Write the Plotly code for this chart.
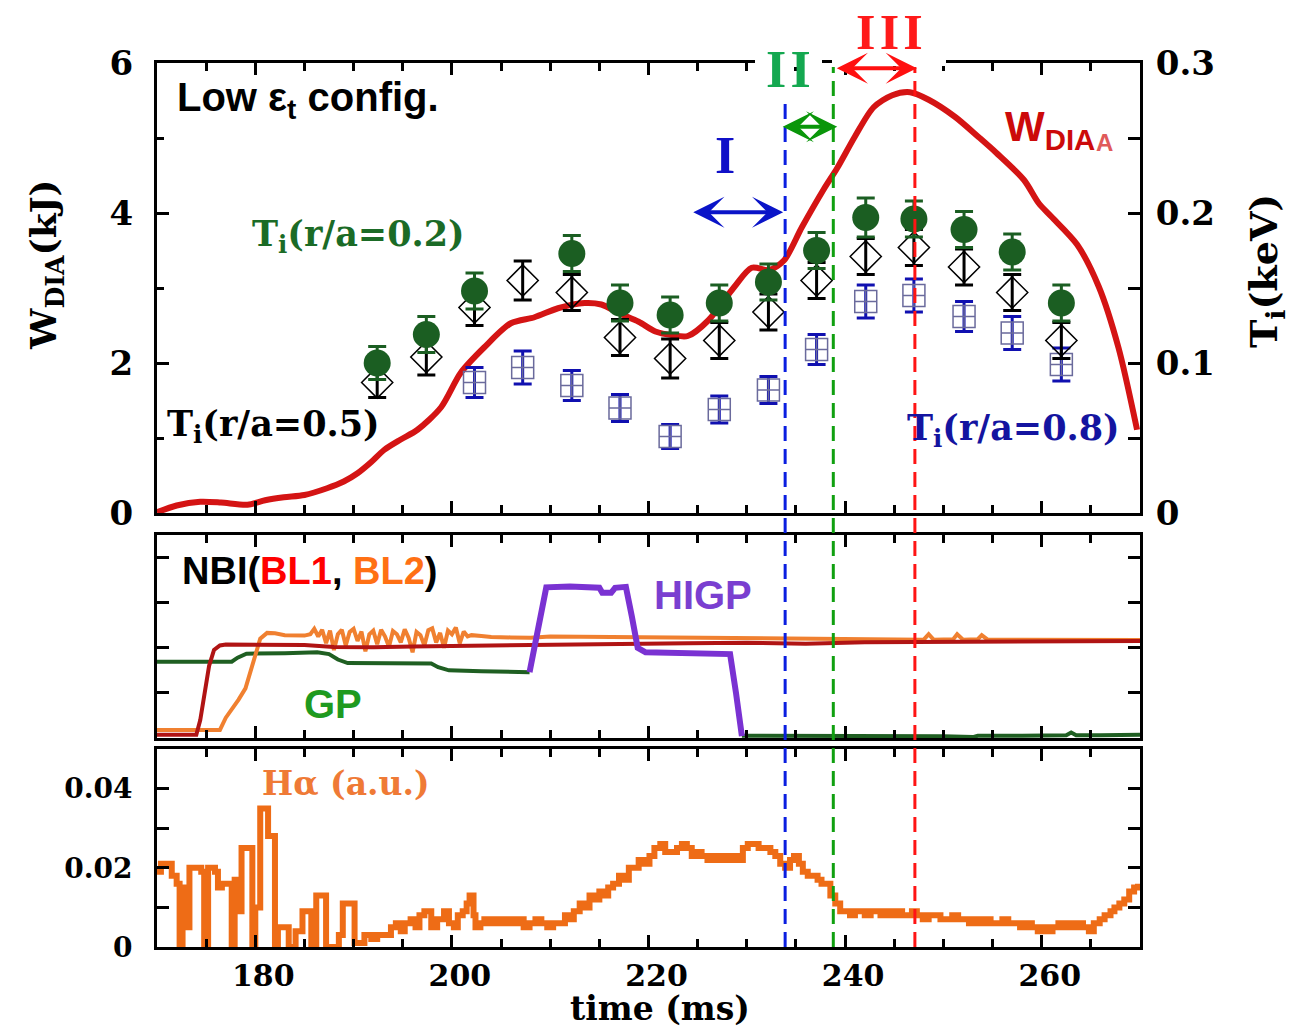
import plotly.graph_objects as go

# ---------------- data ----------------
# W_DIA stored energy (kJ) vs time (ms)
w_time = [170.0, 172.0, 174.4, 176.5, 179.2, 181.0, 182.9, 185.0, 187.3, 189.0,
          190.4, 191.8, 193.1, 194.8, 196.5, 198.9, 200.9, 203.3, 206.0, 208.4,
          210.8, 213.5, 215.2, 217.1, 219.0, 220.7, 222.5, 224.0, 226.1, 228.7,
          230.5, 232.3, 233.8, 235.6, 237.8, 239.2, 241.0, 242.9, 244.8, 246.6,
          248.5, 251.2, 253.6, 255.4, 258.2, 259.7, 261.0, 263.6, 265.8, 267.8, 269.7]
w_dia = [0.01, 0.10, 0.15, 0.14, 0.11, 0.17, 0.21, 0.24, 0.33, 0.42,
         0.53, 0.68, 0.84, 0.98, 1.11, 1.41, 1.87, 2.21, 2.53, 2.61,
         2.73, 2.80, 2.78, 2.66, 2.55, 2.42, 2.37, 2.36, 2.57, 3.01,
         3.27, 3.24, 3.37, 3.81, 4.31, 4.60, 5.02, 5.41, 5.57, 5.61,
         5.51, 5.28, 5.01, 4.80, 4.44, 4.13, 3.95, 3.58, 3.02, 2.21, 1.11]

# Ion temperature (keV) at three radii
ti_time = [192.4, 197.4, 202.3, 207.2, 212.2, 217.1, 222.2, 227.2, 232.2, 237.1,
           242.1, 247.0, 252.1, 257.0, 262.0]
ti_r02 = [0.100, 0.119, 0.148, None, 0.173, 0.140, 0.132, 0.140, 0.154, 0.175,
          0.197, 0.196, 0.189, 0.174, 0.140]
ti_r02_err = [0.011, 0.012, 0.012, 0.0, 0.012, 0.012, 0.012, 0.012, 0.012, 0.012,
              0.013, 0.012, 0.012, 0.012, 0.012]
ti_r05 = [0.087, 0.104, 0.137, 0.155, 0.147, 0.117, 0.103, 0.115, 0.134, 0.155,
          0.171, 0.177, 0.164, 0.147, 0.115]
ti_r05_err = [0.010, 0.012, 0.012, 0.013, 0.012, 0.012, 0.013, 0.012, 0.012, 0.012,
              0.012, 0.012, 0.012, 0.012, 0.012]
ti_r08 = [None, None, 0.087, 0.097, 0.085, 0.070, 0.051, 0.069, 0.082, 0.109,
          0.141, 0.145, 0.131, 0.120, 0.099]
ti_r08_err = [0.0, 0.0, 0.010, 0.011, 0.010, 0.009, 0.008, 0.009, 0.009, 0.010,
              0.011, 0.011, 0.010, 0.011, 0.011]

# NBI / gas-puff waveforms (a.u.)
bl1_time = [170.0, 174.0, 174.4, 174.8, 175.3, 175.8, 176.4, 177.0, 180.0, 185.0,
            188.0, 192.0, 196.0, 200.0, 204.0, 208.0, 212.0, 218.0, 224.0, 230.0,
            236.0, 242.0, 248.0, 254.0, 260.0, 266.0, 270.0]
bl1_val = [0.07, 0.07, 0.40, 1.00, 1.60, 1.95, 2.05, 2.07, 2.07, 2.06,
           2.02, 2.01, 2.03, 2.04, 2.06, 2.08, 2.09, 2.10, 2.10, 2.11,
           2.09, 2.12, 2.13, 2.13, 2.14, 2.15, 2.15]

bl2_time = [170.0, 176.4, 177.0, 177.6, 178.3, 179.0, 179.7, 180.5, 181.2, 182.0,
            183.0, 184.0, 185.0, 185.6, 186.0, 186.4, 186.8, 187.2, 187.6, 188.0,
            188.4, 188.8, 189.2, 189.6, 190.0, 190.4, 190.8, 191.2, 191.6, 192.0,
            192.4, 192.8, 193.2, 193.6, 194.0, 194.4, 194.8, 195.2, 195.6, 196.0,
            196.4, 196.8, 197.2, 197.6, 198.0, 198.4, 198.8, 199.2, 199.6, 200.0,
            200.4, 200.8, 201.2, 201.6, 202.0, 203.0, 204.0, 206.0, 208.0, 210.0,
            215.0, 220.0, 225.0, 230.0, 235.0, 240.0, 245.0, 248.0, 248.5, 249.0,
            251.0, 251.4, 252.0, 253.5, 253.9, 254.5, 258.0, 262.0, 266.0, 270.0]
bl2_val = [0.18, 0.18, 0.45, 0.62, 0.85, 1.10, 1.65, 2.20, 2.33, 2.32,
           2.28, 2.27, 2.27, 2.30, 2.42, 2.25, 2.40, 2.10, 2.38, 1.95,
           2.30, 2.40, 2.05, 2.35, 2.42, 2.15, 2.36, 1.92, 2.30, 2.38,
           2.08, 2.40, 2.25, 2.02, 2.37, 2.30, 2.12, 2.41, 2.22, 1.90,
           2.35, 2.28, 2.05, 2.39, 2.43, 2.12, 2.33, 2.00, 2.38, 2.30,
           2.45, 2.10, 2.36, 2.25, 2.28, 2.26, 2.24, 2.23, 2.22, 2.25,
           2.24, 2.25, 2.23, 2.22, 2.20, 2.20, 2.19, 2.18, 2.30, 2.18,
           2.19, 2.30, 2.18, 2.19, 2.28, 2.18, 2.18, 2.18, 2.17, 2.17]

gp_time = [170.0, 177.6, 178.2, 179.1, 183.0, 186.3, 187.5, 188.4, 189.4, 193.0,
           197.9, 198.6, 199.7, 203.0, 207.9]
gp_val = [1.69, 1.69, 1.78, 1.87, 1.88, 1.90, 1.86, 1.74, 1.66, 1.65,
          1.65, 1.57, 1.50, 1.48, 1.46]

higp_time = [207.9, 208.8, 209.6, 212.0, 215.0, 215.3, 216.2, 216.6, 217.7, 218.3,
             218.9, 219.7, 224.0, 228.3, 228.9, 229.5]
higp_val = [1.46, 2.50, 3.34, 3.36, 3.33, 3.22, 3.22, 3.33, 3.35, 2.70,
            2.00, 1.90, 1.88, 1.86, 1.00, 0.04]

gp_late_time = [229.5, 235.0, 240.0, 245.0, 250.0, 253.0, 253.5, 258.0, 262.5, 263.0,
                263.5, 266.0, 270.0]
gp_late_val = [0.05, 0.05, 0.04, 0.05, 0.04, 0.02, 0.05, 0.05, 0.06, 0.12,
               0.06, 0.06, 0.07]

# H-alpha emission (a.u.)
ha_time = [170.0, 170.4, 171.0, 171.5, 172.0, 172.3, 172.6, 173.0, 173.3, 174.0,
           174.5, 174.8, 175.2, 175.9, 176.2, 176.6, 177.4, 177.6, 177.9, 178.3,
           178.6, 179.4, 179.7, 180.0, 180.5, 181.2, 181.3, 181.8, 182.0, 182.3,
           183.1, 183.4, 184.1, 184.8, 185.4, 185.7, 186.2, 186.9, 187.2, 187.9,
           188.5, 188.9, 189.6, 190.1, 190.6, 191.1, 191.8, 192.4, 193.1, 193.8,
           194.3, 194.8, 195.2, 195.8, 196.3, 196.7, 197.2, 197.9, 198.5, 199.2,
           199.7, 200.2, 200.6, 201.1, 201.5, 201.8, 202.2, 202.4, 202.9, 203.3,
           203.8, 204.4, 205.0, 205.6, 206.1, 206.7, 207.3, 207.9, 208.5, 209.1,
           209.7, 210.3, 210.9, 211.5, 212.0, 212.4, 213.0, 213.5, 214.0, 214.4,
           215.0, 215.5, 215.9, 216.4, 217.0, 217.5, 218.0, 218.5, 219.0, 219.6,
           220.1, 220.6, 221.2, 221.7, 222.4, 222.9, 223.4, 223.9, 224.4, 224.9,
           225.4, 226.0, 226.5, 227.0, 227.5, 228.0, 228.5, 229.0, 229.6, 230.1,
           230.7, 231.2, 231.8, 232.4, 232.9, 233.4, 233.9, 234.4, 234.8, 235.3,
           235.7, 236.2, 236.7, 237.2, 237.6, 238.0, 238.5, 239.0, 239.5, 240.0,
           240.5, 241.0, 241.5, 242.0, 242.6, 243.1, 243.6, 244.2, 244.7, 245.2,
           245.8, 246.3, 246.8, 247.3, 247.9, 248.5, 249.1, 249.7, 250.3, 250.9,
           251.5, 252.1, 252.6, 253.0, 253.6, 254.2, 254.8, 255.4, 256.0, 256.6,
           257.2, 257.8, 258.4, 259.0, 259.6, 260.1, 260.6, 261.1, 261.7, 262.2,
           262.6, 263.1, 263.6, 264.2, 264.8, 265.3, 265.9, 266.4, 267.0, 267.4,
           267.9, 268.4, 268.9, 269.4, 269.8]
ha_val = [0.019, 0.021, 0.021, 0.018, 0.016, 0.000, 0.015, 0.005, 0.020, 0.020,
          0.019, 0.000, 0.020, 0.019, 0.015, 0.016, 0.016, 0.000, 0.017, 0.009,
          0.025, 0.025, 0.000, 0.010, 0.035, 0.035, 0.028, 0.028, 0.000, 0.005,
          0.005, 0.000, 0.004, 0.009, 0.009, 0.000, 0.013, 0.013, 0.000, 0.000,
          0.003, 0.011, 0.011, 0.001, 0.001, 0.003, 0.002, 0.003, 0.003, 0.005,
          0.006, 0.004, 0.006, 0.007, 0.005, 0.008, 0.009, 0.005, 0.007, 0.009,
          0.006, 0.005, 0.008, 0.009, 0.011, 0.013, 0.008, 0.005, 0.006, 0.007,
          0.006, 0.007, 0.006, 0.007, 0.006, 0.007, 0.005, 0.006, 0.007, 0.006,
          0.005, 0.006, 0.006, 0.008, 0.007, 0.009, 0.011, 0.010, 0.013, 0.012,
          0.014, 0.013, 0.015, 0.016, 0.018, 0.017, 0.020, 0.020, 0.022, 0.021,
          0.023, 0.025, 0.026, 0.024, 0.024, 0.025, 0.026, 0.025, 0.023, 0.024,
          0.023, 0.022, 0.023, 0.022, 0.023, 0.022, 0.023, 0.022, 0.025, 0.026,
          0.026, 0.025, 0.025, 0.024, 0.023, 0.021, 0.020, 0.022, 0.023, 0.021,
          0.019, 0.018, 0.018, 0.017, 0.016, 0.016, 0.013, 0.011, 0.009, 0.009,
          0.008, 0.009, 0.009, 0.008, 0.009, 0.009, 0.008, 0.009, 0.008, 0.009,
          0.008, 0.008, 0.009, 0.008, 0.007, 0.008, 0.008, 0.007, 0.007, 0.008,
          0.007, 0.007, 0.006, 0.007, 0.006, 0.007, 0.006, 0.006, 0.007, 0.006,
          0.006, 0.005, 0.006, 0.005, 0.004, 0.005, 0.004, 0.005, 0.006, 0.005,
          0.006, 0.005, 0.006, 0.005, 0.004, 0.006, 0.007, 0.008, 0.009, 0.010,
          0.011, 0.012, 0.014, 0.015, 0.016]

# phase boundaries (ms) and phase arrows (start, end, W level)
t_phase_I = 233.9
t_phase_II = 238.8
t_phase_III = 247.1
arrow_I = (224.4, 233.7, 4.01)
arrow_II = (233.5, 239.2, 5.15)
arrow_III = (239.0, 247.3, 5.93)

# ---------------- figure ----------------
W, H = 1306, 1030


def px(x):
    return x / W


def py(y):
    return 1 - y / H


SERIF = "DejaVu Serif"
SANS = "Liberation Sans, Arial"
X_DOM = [px(157), px(1140)]

fig = go.Figure()

fig.add_trace(go.Scatter(x=w_time, y=w_dia, mode="lines", xaxis="x", yaxis="y",
                         line=dict(color="#d41414", width=6, shape="spline", smoothing=0.8)))
fig.add_trace(go.Scatter(x=ti_time, y=ti_r08, mode="markers", xaxis="x", yaxis="y2",
                         marker=dict(symbol="square-cross-open", size=22, color="#6a6a9c",
                                     line=dict(width=1.5, color="#6a6a9c")),
                         error_y=dict(type="data", array=ti_r08_err, color="#1010b0",
                                      thickness=3, width=9)))
fig.add_trace(go.Scatter(x=ti_time, y=ti_r05, mode="markers", xaxis="x", yaxis="y2",
                         marker=dict(symbol="diamond-open", size=24, color="black",
                                     line=dict(width=1.5, color="black")),
                         error_y=dict(type="data", array=ti_r05_err, color="black",
                                      thickness=3, width=9)))
fig.add_trace(go.Scatter(x=ti_time, y=ti_r02, mode="markers", xaxis="x", yaxis="y2",
                         marker=dict(symbol="circle", size=27, color="#1b5e22"),
                         error_y=dict(type="data", array=ti_r02_err, color="#1b5e22",
                                      thickness=3, width=9)))

fig.add_trace(go.Scatter(x=gp_time, y=gp_val, mode="lines", xaxis="x2", yaxis="y3",
                         line=dict(color="#1f5f22", width=4)))
fig.add_trace(go.Scatter(x=gp_late_time, y=gp_late_val, mode="lines", xaxis="x2", yaxis="y3",
                         line=dict(color="#1f5f22", width=4)))
fig.add_trace(go.Scatter(x=bl2_time, y=bl2_val, mode="lines", xaxis="x2", yaxis="y3",
                         line=dict(color="#f08030", width=4)))
fig.add_trace(go.Scatter(x=bl1_time, y=bl1_val, mode="lines", xaxis="x2", yaxis="y3",
                         line=dict(color="#b01414", width=4)))
fig.add_trace(go.Scatter(x=higp_time, y=higp_val, mode="lines", xaxis="x2", yaxis="y3",
                         line=dict(color="#7a32d2", width=6)))

fig.add_trace(go.Scatter(x=ha_time, y=ha_val, mode="lines", xaxis="x3", yaxis="y4",
                         line=dict(color="#ee6c16", width=6, shape="hv")))

tick_font = dict(family=SERIF, size=34, color="black", weight="bold")
common = dict(showline=True, linewidth=3, linecolor="black", ticks="inside",
              tickwidth=3, tickcolor="black", showgrid=False, zeroline=False,
              automargin=False)

xcommon = dict(common, range=[170, 270], domain=X_DOM, tick0=180, dtick=20, ticklen=12,
               mirror="ticks",
               minor=dict(dtick=5, ticklen=8, tickwidth=3, tickcolor="black", ticks="inside"))

fig.update_layout(
    width=W, height=H, autosize=False, showlegend=False,
    margin=dict(l=0, r=0, t=0, b=0, pad=0, autoexpand=False),
    paper_bgcolor="white", plot_bgcolor="white",
    xaxis=dict(xcommon, anchor="y", showticklabels=False),
    yaxis=dict(common, domain=[py(513), py(63)], range=[0, 6], dtick=2, ticklen=12,
               tickfont=tick_font, ticklabelstandoff=14,
               minor=dict(dtick=1, ticklen=7, tickwidth=3, tickcolor="black", ticks="inside")),
    yaxis2=dict(common, overlaying="y", side="right", anchor="x", range=[0, 0.3], dtick=0.1,
                ticklen=12, tickfont=tick_font, ticklabelstandoff=6,
                minor=dict(dtick=0.05, ticklen=12, tickwidth=3, tickcolor="black", ticks="inside")),
    xaxis2=dict(xcommon, anchor="y3", showticklabels=False),
    yaxis3=dict(common, domain=[py(738), py(535)], range=[0, 4.5], dtick=1, ticklen=12,
                mirror="ticks", showticklabels=False),
    xaxis3=dict(xcommon, anchor="y4", showticklabels=True, ticklabelshift=8,
                ticklabelstandoff=0,
                tickfont=dict(family=SERIF, size=30, color="black", weight="bold")),
    yaxis4=dict(common, domain=[py(947), py(749)], range=[0, 0.05], dtick=0.02, ticklen=12,
                mirror="ticks", ticklabelstandoff=16,
                tickfont=dict(family=SERIF, size=28, color="black", weight="bold"),
                minor=dict(dtick=0.01, ticklen=12, tickwidth=3, tickcolor="black", ticks="inside")),
)

# white masks where the phase labels interrupt the top frame
shapes = [
    dict(type="rect", xref="paper", yref="paper", x0=px(755), x1=px(822), y0=py(67), y1=py(55),
         fillcolor="white", line=dict(width=0), layer="above"),
    dict(type="rect", xref="paper", yref="paper", x0=px(832), x1=px(946), y0=py(66), y1=py(55),
         fillcolor="white", line=dict(width=0), layer="above"),
]
for t, col, ytop in [(t_phase_I, "#0a1ee0", 97), (t_phase_II, "#10a010", 67),
                     (t_phase_III, "#ff1414", 67)]:
    shapes.append(dict(type="line", xref="x", yref="paper", x0=t, x1=t, y0=py(947), y1=py(ytop),
                       line=dict(color=col, width=3, dash="15px,8px"), layer="above"))
fig.update_layout(shapes=shapes)

ann = []


def text(x, y, s, size, color="black", family=SANS, xanchor="left", angle=0):
    ann.append(dict(x=px(x), y=py(y), xref="paper", yref="paper", text=s, showarrow=False,
                    xanchor=xanchor, yanchor="middle", textangle=angle,
                    font=dict(family=family, size=size, color=color, weight="bold")))


text(175, 100, "Low ε<sub>t</sub> config.", 40)
text(250, 236, "T<sub>i</sub>(r/a=0.2)", 35, "#1b6b26", SERIF)
text(165, 426, "T<sub>i</sub>(r/a=0.5)", 35, "black", SERIF)
text(905, 430, "T<sub>i</sub>(r/a=0.8)", 35, "#1414a0", SERIF)
text(1003, 130, "W<sub>DIA</sub>", 42, "#cc0a0a")
text(1104, 143, "A", 24, "#e05a5a", SANS, "center")
text(180, 571, 'NBI(<span style="color:#ff0000">BL1</span>, '
               '<span style="color:#ff7014">BL2</span>)', 38)
text(652, 595, "HIGP", 40, "#7a3fd0")
text(302, 704, "GP", 40, "#1f9a1f")
text(260, 783, "Hα (a.u.)", 33, "#ef7a36", SERIF)
text(660, 1008, "time (ms)", 33, "black", SERIF, "center")
text(46, 265, "W<sub>DIA</sub>(kJ)", 36, "black", SERIF, "center", -90)
text(1266, 271, "T<sub>i</sub>(keV)", 38, "black", SERIF, "center", -90)
text(725, 156, "I", 52, "#1010c8", "Liberation Serif", "center")
text(788, 69, "I\u200aI", 52, "#14a850", "Liberation Serif", "center")
text(889, 32, "I\u200aI\u200aI", 50, "#ff1a1a", "Liberation Serif", "center")

for (t0, t1, yv), col in [(arrow_I, "#0a14c8"), (arrow_II, "#0a960a"), (arrow_III, "#ff1010")]:
    ann.append(dict(x=t1, y=yv, ax=t0, ay=yv, xref="x", yref="y", axref="x", ayref="y",
                    text="", showarrow=True, arrowhead=3, startarrowhead=3,
                    arrowside="end+start", arrowsize=1.3, startarrowsize=1.3,
                    arrowwidth=4, arrowcolor=col, standoff=0, startstandoff=0))

fig.update_layout(annotations=ann)
fig.write_html("out.html", config={"displayModeBar": False},
               post_script="document.body.style.margin='0px';")
